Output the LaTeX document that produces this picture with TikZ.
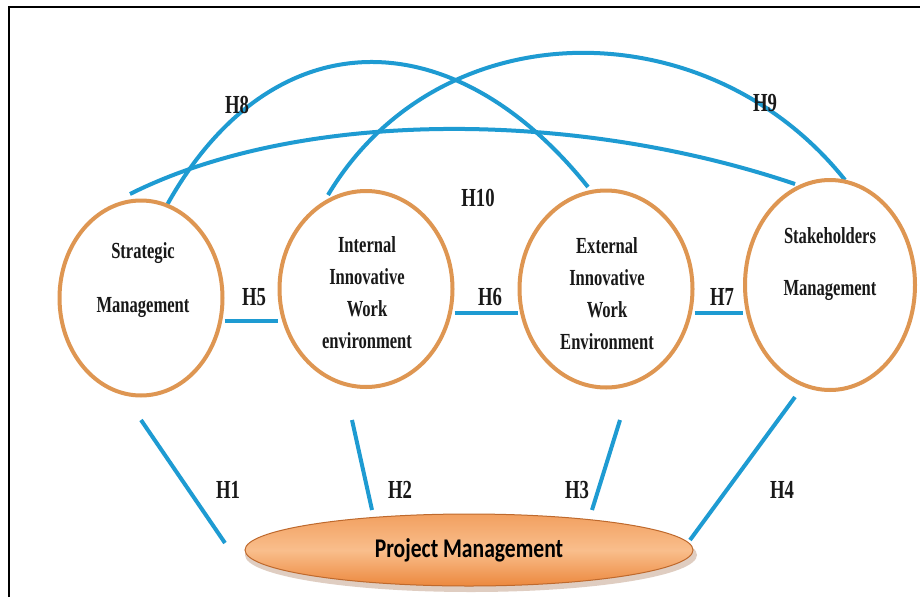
\documentclass[tikz,border=0pt]{standalone}
\usepackage{fontspec}
\setmainfont{Liberation Serif}
\newfontfamily\condserif[FakeStretch=0.72]{Liberation Serif}
\newfontfamily\calib[FakeStretch=0.8]{Carlito}
\usetikzlibrary{shapes.geometric}
\definecolor{circorange}{RGB}{222,150,82}
\definecolor{linkblue}{RGB}{30,155,210}
\definecolor{pmtop}{RGB}{242,160,96}
\definecolor{pmmid}{RGB}{249,190,140}
\definecolor{pmbot}{RGB}{236,136,62}
\definecolor{pmedge}{RGB}{190,105,45}
\tikzset{
  circ/.style={draw=circorange, line width=4pt, ellipse, inner sep=0pt, fill=white},
  link/.style={draw=linkblue, line width=4pt},
  intext/.style={font=\condserif\bfseries\fontsize{23}{32}\selectfont, align=center, text=black!90},
  hlab/.style={font=\condserif\bfseries\fontsize{26}{28}\selectfont, text=black!90},
}
\begin{document}
\begin{tikzpicture}[x=1pt,y=-1pt]
\useasboundingbox (0,0) rectangle (920,597);
\fill[white] (0,0) rectangle (920,597);
\draw[line width=1.5pt] (9,597) -- (9,7) -- (920,7);

% arcs (behind circles)
\coordinate (a8s) at (167,205);
\coordinate (a8e) at (588,187);
\coordinate (a9s) at (328,195);
\coordinate (a9e) at (845,180);
\coordinate (a10s) at (130,194);
\coordinate (a10e) at (795,184);
\draw[link] (a10s) .. controls (300,109) and (573,109) .. (a10e);
\draw[link] (a8s) .. controls (270,20) and (450,15) .. (a8e);
\draw[link] (a9s) .. controls (440,8) and (708,8) .. (a9e);

% circles
\node[circ, minimum width=163pt, minimum height=195pt] (sm) at (141,298) {};
\node[circ, minimum width=173pt, minimum height=196pt] (iiw) at (366,289) {};
\node[circ, minimum width=173pt, minimum height=197pt] (eiw) at (606,289) {};
\node[circ, minimum width=170pt, minimum height=210pt] (shm) at (830,285) {};

% texts in circles
\node[intext] (t1a) at (143,253) {Strategic};
\node[intext] (t1b) at (143,308) {Management};
\node[intext] (t2) at (367,293) {Internal\\Innovative\\Work\\environment};
\node[intext] (t3) at (607,294) {External\\Innovative\\Work\\Environment};
\node[intext] (t4a) at (830,236) {Stakeholders};
\node[intext] (t4b) at (830,291) {Management};

% project management
\fill[pmedge!60!gray, opacity=0.35] (471,555) ellipse (226pt and 37pt);
\node[ellipse, minimum width=448pt, minimum height=72pt, draw=pmedge, line width=1pt,
  top color=pmtop, bottom color=pmbot, middle color=pmmid] (pm) at (469,550)
  {\calib\bfseries\fontsize{27}{29}\selectfont Project Management};

% horizontal links
\draw[link] (sm.east |- 0,321) -- (iiw.west |- 0,321);
\draw[link] (iiw.east |- 0,313) -- (eiw.west |- 0,313);
\draw[link] (eiw.east |- 0,313) -- (shm.west |- 0,313);

% links to project management
\coordinate (h1s) at (141,420); \coordinate (h1e) at (225,543);
\coordinate (h2s) at (352,420); \coordinate (h2e) at (372,510);
\coordinate (h3s) at (620,420); \coordinate (h3e) at (592,510);
\coordinate (h4s) at (795,397); \coordinate (h4e) at (690,540);
\draw[link] (h1s) -- (h1e);
\draw[link] (h2s) -- (h2e);
\draw[link] (h3s) -- (h3e);
\draw[link] (h4s) -- (h4e);

% labels
\node[hlab] (H1) at (228,490) {H1};
\node[hlab] (H2) at (400,490) {H2};
\node[hlab] (H3) at (577,490) {H3};
\node[hlab] (H4) at (782,490) {H4};
\node[hlab] (H5) at (254,297) {H5};
\node[hlab] (H6) at (490,297) {H6};
\node[hlab] (H7) at (722,297) {H7};
\node[hlab] (H8) at (237,105) {H8};
\node[hlab] (H9) at (765,103) {H9};
\node[hlab] (H10) at (478,198) {H10};
\end{tikzpicture}
\end{document}
